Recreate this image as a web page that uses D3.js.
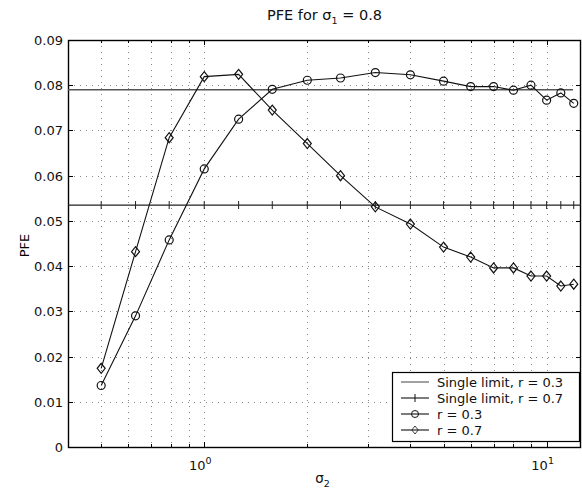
<!DOCTYPE html>
<html>
<head>
<meta charset="utf-8">
<script src="https://cdn.jsdelivr.net/npm/d3@7"></script>
<style>
  body { margin: 0; background: #fff; }
  text { font-family: "DejaVu Sans", "Liberation Sans", Arial, sans-serif; fill: #111; }
</style>
</head>
<body>
<script>
// sigma_2 values where PFE was computed
var sigma2 = [0.5, 0.63, 0.79, 1.0, 1.26, 1.58, 2.0, 2.5, 3.16, 4, 5, 6, 7, 8, 9, 10, 11, 12]
var pfeR03 = [0.0136, 0.029, 0.0458, 0.0615, 0.0725, 0.0791, 0.0811, 0.0816, 0.0828, 0.0823, 0.0809,
              0.0797, 0.0797, 0.0789, 0.0800, 0.0767, 0.0783, 0.0760]
var pfeR07 = [0.0174, 0.0432, 0.0684, 0.0819, 0.0824, 0.0745, 0.0671, 0.0600, 0.0531, 0.0493, 0.0442,
              0.0420, 0.0396, 0.0396, 0.0378, 0.0378, 0.0356, 0.0360]
var singleLimitR03 = 0.079
var singleLimitR07 = 0.0535
var yTicks = [0, 0.01, 0.02, 0.03, 0.04, 0.05, 0.06, 0.07, 0.08, 0.09]
var xGrid = [0.5, 0.6, 0.7, 0.8, 0.9, 1, 2, 3, 4, 5, 6, 7, 8, 9, 10]
var xMajor = [1, 10]
var legendLabels = ['Single limit, r = 0.3', 'Single limit, r = 0.7', 'r = 0.3', 'r = 0.7']

var width = 582, height = 495
var margin = {top: 40, right: 1, bottom: 48, left: 68}

var svg = d3.select('body').append('svg')
    .attr('width', width)
    .attr('height', height)

var x = d3.scaleLog()
    .domain([0.4, 12.6])
    .range([margin.left, width - margin.right])
var y = d3.scaleLinear()
    .domain([0, 0.09])
    .range([height - margin.bottom, margin.top])

var x0 = x.range()[0], x1 = x.range()[1], y0 = y.range()[0], y1 = y.range()[1]

// grid (dotted, like matlab's)
var grid = svg.append('g').attr('stroke', '#888').attr('stroke-width', 1)
    .attr('stroke-dasharray', '1,5')
grid.selectAll('.gx').data(xGrid).enter().append('line')
    .attr('x1', d => Math.round(x(d)) + 0.5).attr('x2', d => Math.round(x(d)) + 0.5)
    .attr('y1', y1).attr('y2', y0)
grid.selectAll('.gy').data(yTicks.slice(1, -1)).enter().append('line')
    .attr('x1', x0).attr('x2', x1)
    .attr('y1', d => Math.round(y(d)) + 0.5).attr('y2', d => Math.round(y(d)) + 0.5)

// frame
svg.append('rect')
    .attr('x', x0 + 0.5).attr('y', y1 + 0.5)
    .attr('width', x1 - x0 - 1).attr('height', y0 - y1)
    .attr('fill', 'none').attr('stroke', '#000').attr('stroke-width', 1.4)

// inward ticks
var ticks = svg.append('g').attr('stroke', '#000').attr('stroke-width', 1)
yTicks.forEach(function (d) {
    var yy = Math.round(y(d)) + 0.5
    ticks.append('line').attr('x1', x0).attr('x2', x0 + 5).attr('y1', yy).attr('y2', yy)
    ticks.append('line').attr('x1', x1).attr('x2', x1 - 5).attr('y1', yy).attr('y2', yy)
})
xGrid.forEach(function (d) {
    var xx = Math.round(x(d)) + 0.5
    var len = xMajor.indexOf(d) >= 0 ? 5 : 3
    ticks.append('line').attr('x1', xx).attr('x2', xx).attr('y1', y0).attr('y2', y0 - len)
    ticks.append('line').attr('x1', xx).attr('x2', xx).attr('y1', y1).attr('y2', y1 + len)
})

// tick labels
svg.append('g').selectAll('text').data(yTicks).enter().append('text')
    .attr('x', x0 - 5).attr('y', d => y(d) + 5)
    .attr('text-anchor', 'end').attr('font-size', 13)
    .text(d => d === 0 ? '0' : d.toFixed(2))

var xl = svg.append('g').selectAll('text').data(xMajor).enter().append('text')
    .attr('x', d => x(d) - 4).attr('y', y0 + 23)
    .attr('text-anchor', 'middle').attr('font-size', 13)
xl.append('tspan').text('10')
xl.append('tspan').attr('dy', -6).attr('font-size', 9.5).text(d => Math.round(Math.log10(d)))

// titles
var t = svg.append('text').attr('x', (x0 + x1) / 2).attr('y', 20)
    .attr('text-anchor', 'middle').attr('font-size', 14.5)
t.append('tspan').text('PFE for σ')
t.append('tspan').attr('dy', 4).attr('font-size', 9.5).text('1')
t.append('tspan').attr('dy', -4).text(' = 0.8')

var xt = svg.append('text').attr('x', (x0 + x1) / 2 - 2).attr('y', 483)
    .attr('text-anchor', 'middle').attr('font-size', 13.5)
xt.append('tspan').text('σ')
xt.append('tspan').attr('dy', 4).attr('font-size', 9.5).text('2')

svg.append('text')
    .attr('transform', 'translate(29,' + (y(0.045) + 2) + ') rotate(-90)')
    .attr('text-anchor', 'middle').attr('font-size', 13)
    .style('fill', '#000')
    .text('PFE')

// single limit lines
svg.append('line')
    .attr('x1', x0).attr('x2', x1 - 8)
    .attr('y1', y(singleLimitR03)).attr('y2', y(singleLimitR03))
    .attr('stroke', '#555').attr('stroke-width', 1.4)
svg.append('line')
    .attr('x1', x0).attr('x2', x1)
    .attr('y1', y(singleLimitR07)).attr('y2', y(singleLimitR07))
    .attr('stroke', '#222').attr('stroke-width', 1.3)
svg.append('g').selectAll('path').data(sigma2).enter().append('path')
    .attr('d', d => 'M' + x(d) + ',' + (y(singleLimitR07) - 4) + 'v8')
    .attr('stroke', '#222').attr('stroke-width', 1)

// data series
var line = d3.line().x(d => x(d[0])).y(d => y(d[1]))
var s03 = d3.zip(sigma2, pfeR03)
var s07 = d3.zip(sigma2, pfeR07)

svg.append('path').datum(s03).attr('d', line)
    .attr('fill', 'none').attr('stroke', '#111').attr('stroke-width', 1.1)
svg.append('path').datum(s07).attr('d', line)
    .attr('fill', 'none').attr('stroke', '#111').attr('stroke-width', 1.1)

svg.append('g').selectAll('circle').data(s03).enter().append('circle')
    .attr('cx', d => x(d[0])).attr('cy', d => y(d[1])).attr('r', 4)
    .attr('fill', 'none').attr('stroke', '#111').attr('stroke-width', 1.2)

var diamond = 'M0,-5L4,0L0,5L-4,0Z'
svg.append('g').selectAll('path').data(s07).enter().append('path')
    .attr('transform', d => 'translate(' + x(d[0]) + ',' + y(d[1]) + ')')
    .attr('d', diamond)
    .attr('fill', 'none').attr('stroke', '#111').attr('stroke-width', 1.2)

// legend
var lg = svg.append('g').attr('transform', 'translate(392,372)')
lg.append('rect').attr('x', 0.5).attr('y', 0.5).attr('width', 187).attr('height', 69)
    .attr('fill', '#fff').attr('stroke', '#000').attr('stroke-width', 1.2)
var item = lg.selectAll('.item').data(legendLabels).enter().append('g')
    .attr('class', 'item')
    .attr('transform', (d, i) => 'translate(0,' + (10 + i * 16) + ')')
item.append('line').attr('x1', 9).attr('x2', 37).attr('y1', 0).attr('y2', 0)
    .attr('stroke', (d, i) => i === 0 ? '#555' : '#111').attr('stroke-width', 1.1)
item.append('text').attr('x', 45).attr('y', 5).attr('font-size', 13).text(d => d)
item.filter((d, i) => i === 1).append('path').attr('d', 'M23,-4v8').attr('stroke', '#111')
item.filter((d, i) => i === 2).append('circle').attr('cx', 23).attr('r', 3.5)
    .attr('fill', 'none').attr('stroke', '#111')
item.filter((d, i) => i === 3).append('path').attr('transform', 'translate(23,0) scale(0.8)')
    .attr('d', diamond).attr('fill', 'none').attr('stroke', '#111')
</script>
</body>
</html>
